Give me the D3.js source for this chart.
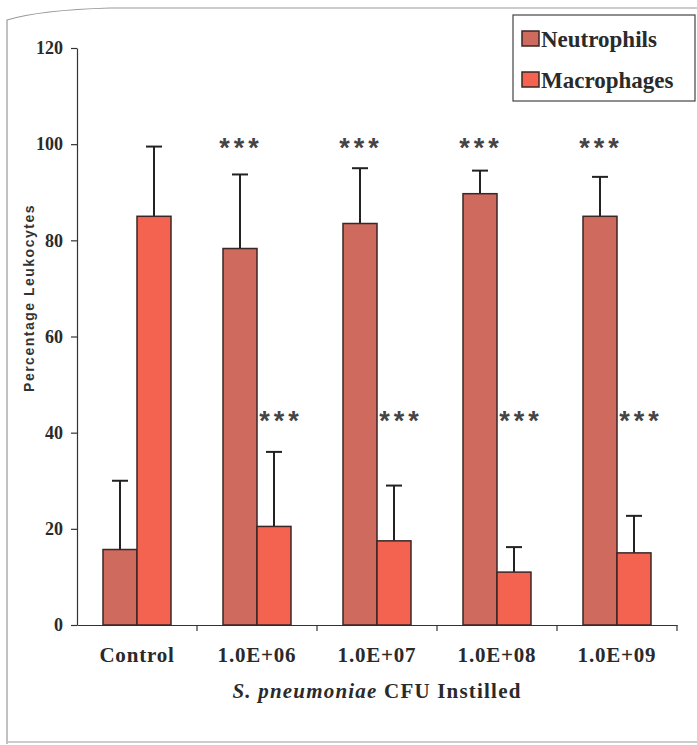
<!DOCTYPE html>
<html><head><meta charset="utf-8">
<script src="https://cdn.jsdelivr.net/npm/d3@7"></script>
<style>body{margin:0;background:#fff}svg{display:block}</style>
</head><body>
<script>
const categories = ["Control","1.0E+06","1.0E+07","1.0E+08","1.0E+09"];
const seriesNames = ["Neutrophils","Macrophages"];
const neutrophils = [15.7, 78.3, 83.5, 89.7, 85.0];
const neutrophilsErr = [30.0, 93.7, 95.0, 94.5, 93.2];
const macrophages = [85.0, 20.5, 17.5, 11.0, 15.0];
const macrophagesErr = [99.5, 36.0, 29.0, 16.2, 22.7];
const neutroSig = ["", "***", "***", "***", "***"];
const macroSig = ["", "***", "***", "***", "***"];
const yTicks = [0,20,40,60,80,100,120];

const W = 697, H = 745;
const svg = d3.select("body").append("svg").attr("width", W).attr("height", H);
const serif = "'Liberation Serif','Times New Roman',serif";
const sans = "'Liberation Sans',Arial,sans-serif";
const colors = ["#cf6a5f", "#f3634f"];
const stroke = "#3b2626";

// frame
svg.append("path").attr("d", "M7,744 L7,20 Q40,10 110,8 L697,8").attr("fill","none").attr("stroke","#999").attr("stroke-width",1.2);
svg.append("line").attr("x1",7).attr("x2",697).attr("y1",742).attr("y2",742).attr("stroke","#bbb").attr("stroke-width",1.5);

const x0 = d3.scaleBand().domain(categories).range([77, 677]);
const y = d3.scaleLinear().domain([0,120]).range([625, 48]);
const barW = 34;

// y axis
const ya = svg.append("g").attr("transform","translate(77,0)")
  .call(d3.axisLeft(y).tickValues(yTicks).tickSize(6).tickSizeOuter(0).tickPadding(8));
ya.select(".domain").attr("stroke","#333").attr("stroke-width",1.2);
ya.selectAll(".tick line").attr("stroke","#333").attr("stroke-width",1.2);
ya.selectAll("text").attr("font-family",serif).attr("font-weight","bold").attr("font-size",18).attr("fill","#2a2a2a");

// x axis
const xa = svg.append("g").attr("transform","translate(0,625)")
  .call(d3.axisBottom(x0).tickSize(0).tickPadding(22));
xa.select(".domain").attr("stroke","#333").attr("stroke-width",1.2);
xa.selectAll("text").attr("font-family",serif).attr("font-weight","bold").attr("font-size",21).attr("letter-spacing",0.8).attr("fill","#2a2a2a");
const bounds = categories.slice(1).map(c => x0(c)).concat([x0.range()[1]]);
svg.append("g").selectAll("line").data(bounds).join("line")
  .attr("x1", d=>d).attr("x2", d=>d).attr("y1",625).attr("y2",631)
  .attr("stroke","#333").attr("stroke-width",1.2);

const data = categories.map((c,i)=>({c, vals:[neutrophils[i], macrophages[i]], errs:[neutrophilsErr[i], macrophagesErr[i]], sig:[neutroSig[i], macroSig[i]]}));

const g = svg.append("g");
data.forEach(d => {
  const cx = x0(d.c) + x0.bandwidth()/2;
  d.vals.forEach((v, k) => {
    const bx = cx - barW + k*barW;
    const bc = bx + barW/2;
    g.append("line").attr("x1",bc).attr("x2",bc).attr("y1",y(v)).attr("y2",y(d.errs[k])).attr("stroke","#222").attr("stroke-width",2);
    g.append("line").attr("x1",bc-8).attr("x2",bc+8).attr("y1",y(d.errs[k])).attr("y2",y(d.errs[k])).attr("stroke","#222").attr("stroke-width",2);
    g.append("rect").attr("x",bx).attr("y",y(v)).attr("width",barW).attr("height",y(0)-y(v))
      .attr("fill",colors[k]).attr("stroke",stroke).attr("stroke-width",1.5);
  });
  if (d.sig[0]) g.append("text").attr("x", cx-barW/2+1).attr("y", 157).attr("text-anchor","middle")
    .attr("font-family",sans).attr("font-weight","bold").attr("font-size",27).attr("fill","#444").attr("letter-spacing",4).text(d.sig[0]);
  if (d.sig[1]) g.append("text").attr("x", cx+barW/2+7).attr("y", 430).attr("text-anchor","middle")
    .attr("font-family",sans).attr("font-weight","bold").attr("font-size",27).attr("fill","#444").attr("letter-spacing",4).text(d.sig[1]);
});

// y title
svg.append("text").attr("transform","translate(34,298) rotate(-90)").attr("text-anchor","middle")
  .attr("font-family",sans).attr("font-weight","bold").attr("font-size",14).attr("fill","#333").attr("letter-spacing",1.5)
  .text("Percentage Leukocytes");

// x title
const xt = svg.append("text").attr("x",377).attr("y",698).attr("text-anchor","middle")
  .attr("font-family",serif).attr("font-weight","bold").attr("font-size",21).attr("letter-spacing",1.2).attr("fill","#2a2a2a");
xt.append("tspan").attr("font-style","italic").text("S. pneumoniae");
xt.append("tspan").text(" CFU Instilled");

// legend
const lg = svg.append("g");
lg.append("rect").attr("x",513).attr("y",15).attr("width",182).attr("height",86).attr("fill","#fff").attr("stroke","#444").attr("stroke-width",1.2);
seriesNames.forEach((n,i)=>{
  const ly = 39 + i*41;
  lg.append("rect").attr("x",522).attr("y",ly-8).attr("width",17).attr("height",15).attr("fill",colors[i]).attr("stroke",stroke).attr("stroke-width",1.5);
  lg.append("text").attr("x",541).attr("y",ly+8).attr("font-family",serif).attr("font-weight","bold").attr("font-size",23).attr("fill","#2a2a2a").text(n);
});
</script>
</body></html>
